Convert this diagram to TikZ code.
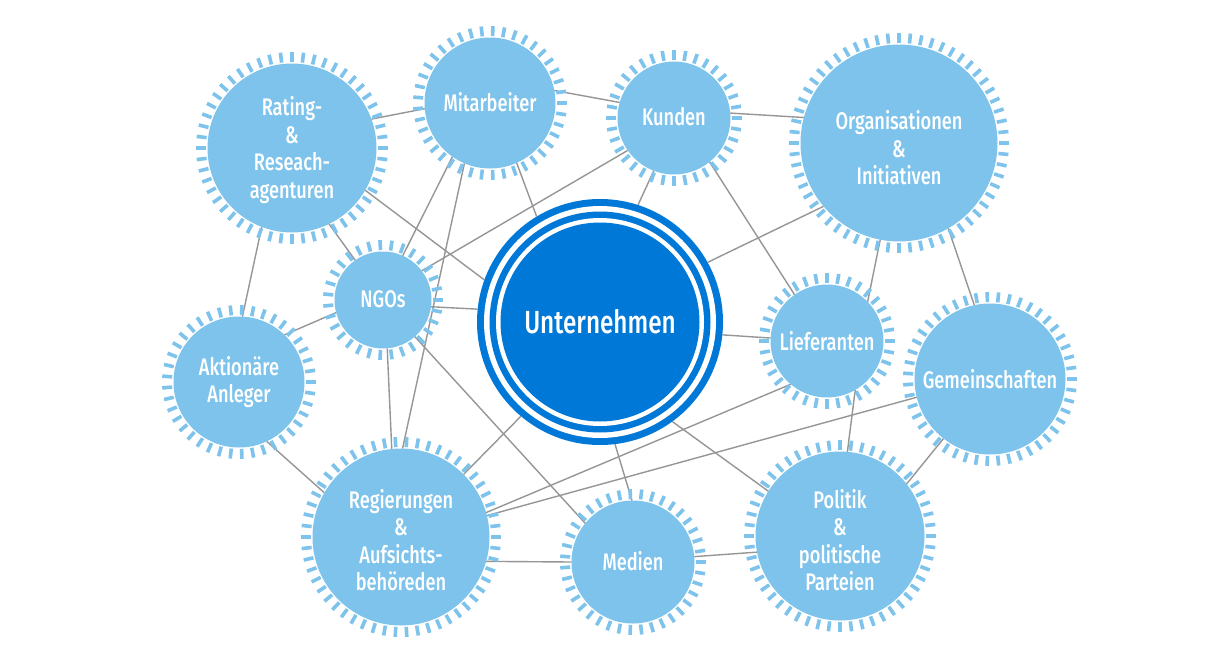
\documentclass[tikz,border=0pt]{standalone}
\usepackage{fontspec}
\setmainfont{Fira Sans}[UprightFont={* Medium}, FakeStretch=0.76]
\usetikzlibrary{backgrounds}
\definecolor{lblue}{RGB}{125,195,236}
\definecolor{dblue}{RGB}{0,120,215}
\definecolor{linegray}{RGB}{150,150,150}
\newcommand\labelfont{\fontsize{24}{27.5}\selectfont}
\newcommand\mkgear[6]{%
  \pgfmathsetmacro\dsz{2*#4-23}%
  \node[gearnode, minimum size=\dsz pt] (#1) at (#2,#3) {};
  \node[gearlabel] (#1-label) at ([yshift=#6pt]#1.center) {#5};
  \pgfmathtruncatemacro\nteeth{round(2*3.14159*(#4-5)/11.0)}%
  \pgfmathsetmacro\tstep{360/\nteeth}%
  \foreach \k in {1,...,\nteeth}{
    \pgfmathsetmacro\tang{\k*\tstep}
    \draw[tooth] (#1.center) ++(\tang:{#4-10}) -- ++(\tang:10);
  }
}
\tikzset{
  edge/.style={draw=linegray, line width=1.4pt},
  gearnode/.style={circle, fill=lblue, inner sep=0pt, outer sep=0pt},
  gearlabel/.style={text=white, align=center, font=\labelfont, inner sep=0pt},
  tooth/.style={draw=lblue, line width=3.6pt},
}
\begin{document}
\begin{tikzpicture}[x=1pt,y=-1pt]
\useasboundingbox (0,0) rectangle (1219,659);
% central node
\node[circle, fill=white, minimum size=246pt, inner sep=0pt, outer sep=0pt] (unt) at (600,322) {};
\fill[dblue] (unt.center) circle[radius=123pt];
\fill[white] (unt.center) circle[radius=116pt];
\fill[dblue] (unt.center) circle[radius=110.5pt];
\fill[white] (unt.center) circle[radius=104pt];
\fill[dblue] (unt.center) circle[radius=99.5pt];
\node[text=white, font=\fontsize{32}{36}\selectfont] (untlabel) at (unt.center) {Unternehmen};
% gears
\mkgear{rat}{292}{148}{96}{Rating-\\\&\\Reseach-\\agenturen}{-2}
\mkgear{mit}{490}{103}{77}{Mitarbeiter}{1}
\mkgear{kun}{674}{118}{68}{Kunden}{1}
\mkgear{org}{899}{143}{110}{Organisationen\\\&\\Initiativen}{-5}
\mkgear{ngo}{383}{300}{60}{NGOs}{1}
\mkgear{akt}{239}{382}{77}{Aktionäre\\Anleger}{0}
\mkgear{lie}{827}{341}{68}{Lieferanten}{0}
\mkgear{gem}{990}{379}{87}{Gemeinschaften}{0}
\mkgear{reg}{401}{537}{100}{Regierungen\\\&\\Aufsichts-\\behöreden}{-3}
\mkgear{med}{633}{562}{73}{Medien}{1}
\mkgear{pol}{840}{536}{96}{Politik\\\&\\politische\\Parteien}{-4}
% connectors
\begin{scope}[on background layer]
\fill[white] (0,0) rectangle (1219,659);
\draw[edge] (rat.20) -- (mit.185);
\draw[edge] (rat.-30) -- (unt.160);
\draw[edge] (rat.-64) -- (ngo.125);
\draw[edge] (rat.-111) -- (akt.87);
\draw[edge] (mit.11) -- (kun.164);
\draw[edge] (mit.-66) -- (unt.121);
\draw[edge] (mit.-125) -- (ngo.66);
\draw[edge] (mit.-113) -- (reg.89);
\draw[edge] (kun.5) -- (org.165);
\draw[edge] (kun.-111) -- (unt.72);
\draw[edge] (kun.-145) -- (ngo.37);
\draw[edge] (kun.-51) -- (lie.125);
\draw[edge] (org.-140) -- (unt.29);
\draw[edge] (org.-101) -- (lie.44);
\draw[edge] (org.-60) -- (gem.102);
\draw[edge] (ngo.-8) -- (unt.174);
\draw[edge] (ngo.-165) -- (akt.46);
\draw[edge] (ngo.-85) -- (reg.96);
\draw[edge] (ngo.-49) -- (med.141);
\draw[edge] (akt.-65) -- (reg.150);
\draw[edge] (unt.-6) -- (lie.177);
\draw[edge] (lie.-130) -- (reg.16);
\draw[edge] (lie.-60) -- (pol.85);
\draw[edge] (gem.-166) -- (reg.14);
\draw[edge] (gem.-128) -- (pol.38);
\draw[edge] (unt.-130) -- (reg.45);
\draw[edge] (unt.-83) -- (med.91);
\draw[edge] (unt.-54) -- (pol.148);
\draw[edge] (reg.-16) -- (med.180);
\draw[edge] (med.5) -- (pol.-169);
\end{scope}
\end{tikzpicture}
\end{document}
